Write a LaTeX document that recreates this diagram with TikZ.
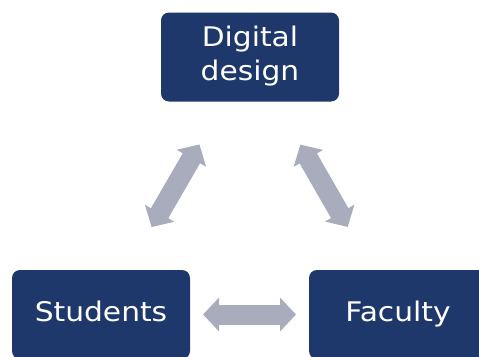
\documentclass[tikz,border=0pt]{standalone}
\usepackage{fontspec}
\setmainfont{DejaVu Sans}[FakeStretch=1.1]
\usetikzlibrary{arrows.meta}
\definecolor{navy}{HTML}{1F386C}
\definecolor{arrowgray}{HTML}{A9ACBC}
\tikzset{
  box/.style={fill=navy, draw=none, rounded corners=8pt, minimum width=178pt, minimum height=89pt,
    inner sep=0pt, text=white, align=center, font=\fontsize{27}{34}\selectfont},
  conn/.style={draw=arrowgray, line width=20pt,
    {Triangle[width=33pt,length=16pt,fill=arrowgray]}-{Triangle[width=33pt,length=16pt,fill=arrowgray]},
    shorten <=#1, shorten >=#1},
}
\begin{document}
\begin{tikzpicture}[x=1pt,y=-1pt]
\useasboundingbox (0,0) rectangle (479,356);
\node[box] (dd) at (250,57) {\strut Digital\\\strut design};
\node[box] (st) at (101,314.5) {\strut Students};
\node[box] (fa) at (398,314.5) {\strut Faculty};
\draw[conn=101pt] (dd.center) -- (st.center);
\draw[conn=101pt] (dd.center) -- (fa.center);
\draw[conn=102pt] (st.center) -- (fa.center);
\end{tikzpicture}
\end{document}
